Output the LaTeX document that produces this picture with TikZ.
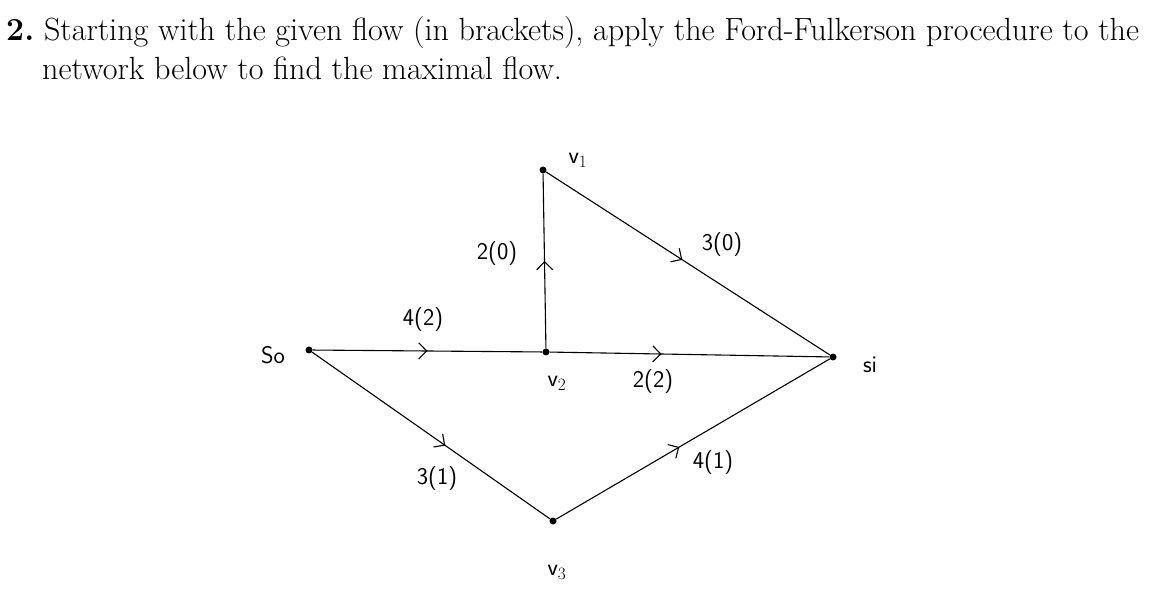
\documentclass[tikz,border=0pt]{standalone}
\usetikzlibrary{decorations.markings,arrows.meta}
\begin{document}
\begin{tikzpicture}[x=1pt,y=-1pt,
  vert/.style={circle,fill=black,inner sep=0pt,minimum size=7pt},
  lab/.style={font=\fontsize{24}{26}\selectfont\sffamily},
  edge/.style={line width=1.1pt,postaction={decorate},decoration={markings,mark=at position #1 with {\arrow{Straight Barb[length=8pt,width=16pt,line width=1.1pt]}}}}]
\useasboundingbox (0,0) rectangle (1149,593);
\node[anchor=north west,inner sep=0pt,align=left,font=\fontsize{32.1}{39}\selectfont] (hdr) at (6,16)
  {\textbf{2.}\ Starting with the given flow (in brackets), apply the Ford-Fulkerson procedure to the\\ \hspace*{36pt}network below to find the maximal flow.};
\node[vert] (so) at (309,350) {};
\node[vert] (v1) at (543,170) {};
\node[vert] (v2) at (546,352) {};
\node[vert] (si) at (833,357) {};
\node[vert] (v3) at (553,521) {};
\draw[edge=0.5] (so) -- (v2);
\draw[edge=0.4] (v2) -- (si);
\draw[edge=0.5] (v2) -- (v1);
\draw[edge=0.48] (v1) -- (si);
\draw[edge=0.56] (so) -- (v3);
\draw[edge=0.45] (v3) -- (si);
\node[lab] (lso) at (273,355) {So};
\node[lab] (lv1) at (578,160) {v$_1$};
\node[lab] (l20) at (497,254) {2(0)};
\node[lab] (l30) at (722,245) {3(0)};
\node[lab] (l42) at (423,320) {4(2)};
\node[lab] (lv2) at (557,383) {v$_2$};
\node[lab] (l22) at (653,382) {2(2)};
\node[lab] (lsi) at (870,365) {si};
\node[lab] (l31) at (437,479) {3(1)};
\node[lab] (l41) at (713,463) {4(1)};
\node[lab] (lv3) at (557,572) {v$_3$};
\end{tikzpicture}
\end{document}
